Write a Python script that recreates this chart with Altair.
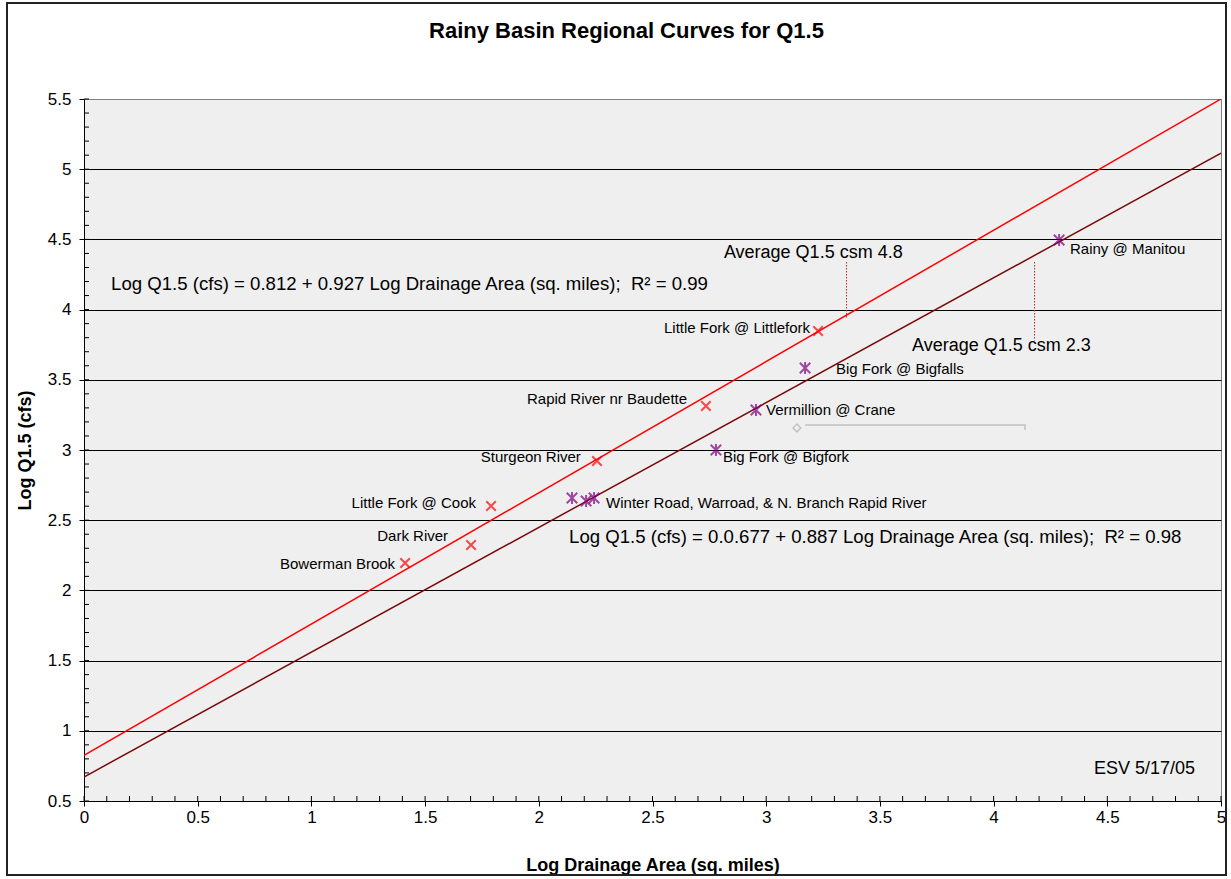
import altair as alt
import pandas as pd
import numpy as np

FONT = "Liberation Sans"

title_text = "Rainy Basin Regional Curves for Q1.5"
x_title = "Log Drainage Area (sq. miles)"
y_title = "Log Q1.5 (cfs)"

# Red series (x markers)
red_names = ["Bowerman Brook", "Dark River", "Little Fork @ Cook", "Sturgeon River",
             "Rapid River nr Baudette", "Little Fork @ Littlefork"]
red_x = [1.412, 1.702, 1.790, 2.256, 2.735, 3.228]
red_y = [2.195, 2.323, 2.601, 2.922, 3.313, 3.848]

# Purple series (asterisk markers)
purple_names = ["Winter Road", "Warroad", "N. Branch Rapid River", "Big Fork @ Bigfork",
                "Vermillion @ Crane", "Big Fork @ Bigfalls", "Rainy @ Manitou"]
purple_x = [2.146, 2.208, 2.243, 2.779, 2.955, 3.171, 4.288]
purple_y = [2.658, 2.637, 2.658, 3.000, 3.285, 3.584, 4.496]

# Regression lines (end points)
line_x = [0.0, 5.0]
red_line_y = [0.825, 5.5]
dark_line_y = [0.671, 5.115]

# Point labels (anchor positions in data units)
lab_r_text = ["Bowerman Brook", "Dark River", "Little Fork @ Cook", "Sturgeon River",
              "Rapid River nr Baudette", "Little Fork @ Littlefork"]
lab_r_x = [1.368, 1.601, 1.724, 2.185, 2.652, 3.193]
lab_r_y = [2.188, 2.390, 2.625, 2.948, 3.363, 3.869]

lab_l_text = ["Winter Road, Warroad, & N. Branch Rapid River", "Big Fork @ Bigfork",
              "Vermillion @ Crane", "Big Fork @ Bigfalls", "Rainy @ Manitou"]
lab_l_x = [2.296, 2.810, 2.999, 3.307, 4.336]
lab_l_y = [2.625, 2.950, 3.285, 3.577, 4.432]

# Annotations
eq_text = ["Log Q1.5 (cfs) = 0.812 + 0.927 Log Drainage Area (sq. miles);\u00a0 R\u00b2 = 0.99",
           "Log Q1.5 (cfs) = 0.0.677 + 0.887 Log Drainage Area (sq. miles);\u00a0 R\u00b2 = 0.98"]
eq_x = [0.119, 2.133]
eq_y = [4.182, 2.380]

avg_text = ["Average Q1.5 csm 4.8", "Average Q1.5 csm 2.3"]
avg_x = [2.814, 3.641]
avg_y = [4.403, 3.741]

note_text = ["ESV 5/17/05"]
note_x = [4.886]
note_y = [0.728]

# Dotted leader lines
lead1_x = [3.353, 3.353]
lead1_y = [4.339, 3.940]
lead2_x = [4.180, 4.180]
lead2_y = [4.339, 3.780]

# Grey bracket + diamond
bracket_x = [3.171, 4.138, 4.138]
bracket_y = [3.178, 3.178, 3.142]
diamond_x = [3.135]
diamond_y = [3.157]

# Ticks
x_major = [0, 0.5, 1, 1.5, 2, 2.5, 3, 3.5, 4, 4.5, 5]
y_major = [0.5, 1, 1.5, 2, 2.5, 3, 3.5, 4, 4.5, 5, 5.5]
x_minor = [round(v, 1) for v in np.arange(0, 5.01, 0.1)]
y_minor = [round(v, 1) for v in np.arange(0.5, 5.51, 0.1)]

W, H = 1137, 702
xs = alt.Scale(domain=[0, 5], nice=False, zero=False)
ys = alt.Scale(domain=[0.5, 5.5], nice=False, zero=False)

X_SHAPE = "M-1,-1L1,1M-1,1L1,-1"
AST_SHAPE = "M-1,-1L1,1M-1,1L1,-1M0,-1.15L0,1.15"

# Outer border
border = alt.Chart(alt.Data(values=[{}])).mark_rect(
    filled=False, stroke="#222222", strokeWidth=2, clip=False
).encode(x=alt.value(-77), x2=alt.value(1142), y=alt.value(-96), y2=alt.value(776))

# Axes carrier (invisible points) + gridlines
axes_df = pd.DataFrame({"x": [0, 5], "y": [0.5, 5.5]})
axes = alt.Chart(axes_df).mark_point(opacity=0).encode(
    x=alt.X("x:Q", scale=xs, axis=alt.Axis(
        values=x_major, format="~g", title=x_title, grid=False,
        tickSize=5, tickColor="black", domainColor="black", labelFlush=False,
        labelFontSize=17, labelFont=FONT, labelColor="black", labelPadding=3,
        titleFontSize=18, titleFont=FONT, titleFontWeight="bold", titleColor="black",
        titleBaseline="alphabetic", titleY=69, titleX=W / 2)),
    y=alt.Y("y:Q", scale=ys, axis=alt.Axis(
        values=y_major, format="~g", title=y_title, grid=True,
        gridColor=alt.condition("datum.value == 5.5", alt.value("#808080"), alt.value("black")),
        gridWidth=1, labelFlush=False,
        tickSize=5, tickColor="black", domainColor="black",
        labelFontSize=17, labelFont=FONT, labelColor="black", labelPadding=8,
        titleFontSize=18, titleFont=FONT, titleFontWeight="bold", titleColor="black",
        titleAngle=270, titleBaseline="alphabetic", titleAlign="center",
        titleX=-54, titleY=H / 2)),
)

# Inner ticks
xmin_df = pd.DataFrame({"x": x_minor})
xminor = alt.Chart(xmin_df).mark_rule(color="black", strokeWidth=1).encode(
    x=alt.X("x:Q", scale=xs), y=alt.value(H - 5), y2=alt.value(H))
ymin_df = pd.DataFrame({"y": y_minor})
yminor = alt.Chart(ymin_df).mark_rule(color="black", strokeWidth=1).encode(
    y=alt.Y("y:Q", scale=ys), x=alt.value(0), x2=alt.value(5))

# Trend lines
red_line = alt.Chart(pd.DataFrame({"x": line_x, "y": red_line_y})).mark_line(
    color="#ff0000", strokeWidth=1.5, clip=True).encode(
    x=alt.X("x:Q", scale=xs), y=alt.Y("y:Q", scale=ys))
dark_line = alt.Chart(pd.DataFrame({"x": line_x, "y": dark_line_y})).mark_line(
    color="#7a0a0a", strokeWidth=1.5, clip=True).encode(
    x=alt.X("x:Q", scale=xs), y=alt.Y("y:Q", scale=ys))

# Leader lines
lead1 = alt.Chart(pd.DataFrame({"x": lead1_x, "y": lead1_y})).mark_line(
    color="#d02020", strokeWidth=1, strokeDash=[1.5, 1.5]).encode(
    x=alt.X("x:Q", scale=xs), y=alt.Y("y:Q", scale=ys))
lead2 = alt.Chart(pd.DataFrame({"x": lead2_x, "y": lead2_y})).mark_line(
    color="#d02020", strokeWidth=1, strokeDash=[1.5, 1.5]).encode(
    x=alt.X("x:Q", scale=xs), y=alt.Y("y:Q", scale=ys))

bracket = alt.Chart(pd.DataFrame({"x": bracket_x, "y": bracket_y, "o": [0, 1, 2]})).mark_line(
    color="#c0c0c0", strokeWidth=1.5).encode(
    x=alt.X("x:Q", scale=xs), y=alt.Y("y:Q", scale=ys), order="o:Q")
diamond = alt.Chart(pd.DataFrame({"x": diamond_x, "y": diamond_y})).mark_point(
    shape="diamond", filled=False, color="#b0b0b0", strokeWidth=1.5, size=60).encode(
    x=alt.X("x:Q", scale=xs), y=alt.Y("y:Q", scale=ys))

# Points
red_pts = alt.Chart(pd.DataFrame({"x": red_x, "y": red_y, "name": red_names})).mark_point(
    shape=X_SHAPE, filled=False, color="#ff0000", strokeWidth=2, size=90).encode(
    x=alt.X("x:Q", scale=xs), y=alt.Y("y:Q", scale=ys))
purple_pts = alt.Chart(pd.DataFrame({"x": purple_x, "y": purple_y, "name": purple_names})).mark_point(
    shape=AST_SHAPE, filled=False, color="#800080", strokeWidth=2, size=110).encode(
    x=alt.X("x:Q", scale=xs), y=alt.Y("y:Q", scale=ys))

# Labels
lab_r = alt.Chart(pd.DataFrame({"x": lab_r_x, "y": lab_r_y, "t": lab_r_text})).mark_text(
    align="right", baseline="middle", font=FONT, fontSize=15, color="black").encode(
    x=alt.X("x:Q", scale=xs), y=alt.Y("y:Q", scale=ys), text="t:N")
lab_l = alt.Chart(pd.DataFrame({"x": lab_l_x, "y": lab_l_y, "t": lab_l_text})).mark_text(
    align="left", baseline="middle", font=FONT, fontSize=15, color="black").encode(
    x=alt.X("x:Q", scale=xs), y=alt.Y("y:Q", scale=ys), text="t:N")
eqs = alt.Chart(pd.DataFrame({"x": eq_x, "y": eq_y, "t": eq_text})).mark_text(
    align="left", baseline="middle", font=FONT, fontSize=18.6, color="black").encode(
    x=alt.X("x:Q", scale=xs), y=alt.Y("y:Q", scale=ys), text="t:N")
avgs = alt.Chart(pd.DataFrame({"x": avg_x, "y": avg_y, "t": avg_text})).mark_text(
    align="left", baseline="middle", font=FONT, fontSize=18, color="black").encode(
    x=alt.X("x:Q", scale=xs), y=alt.Y("y:Q", scale=ys), text="t:N")
note = alt.Chart(pd.DataFrame({"x": note_x, "y": note_y, "t": note_text})).mark_text(
    align="right", baseline="middle", font=FONT, fontSize=18, color="black").encode(
    x=alt.X("x:Q", scale=xs), y=alt.Y("y:Q", scale=ys), text="t:N")

chart = alt.layer(
    border, axes, xminor, yminor, bracket, diamond, lead1, lead2,
    red_line, dark_line, red_pts, purple_pts, lab_r, lab_l, eqs, avgs, note
).properties(
    width=W, height=H,
    title=alt.TitleParams(title_text, font=FONT, fontSize=22, fontWeight="bold",
                          color="black", anchor="middle", baseline="alphabetic",
                          frame="group", offset=-58, dx=-26),
    autosize=alt.AutoSizeParams(type="none"),
    padding={"left": 84, "top": 99, "right": 10, "bottom": 78},
    background="white",
).configure_view(
    fill="#efefef", stroke="#808080", strokeWidth=1
)

chart.save("out.html", embed_options={"renderer": "svg", "actions": False})
